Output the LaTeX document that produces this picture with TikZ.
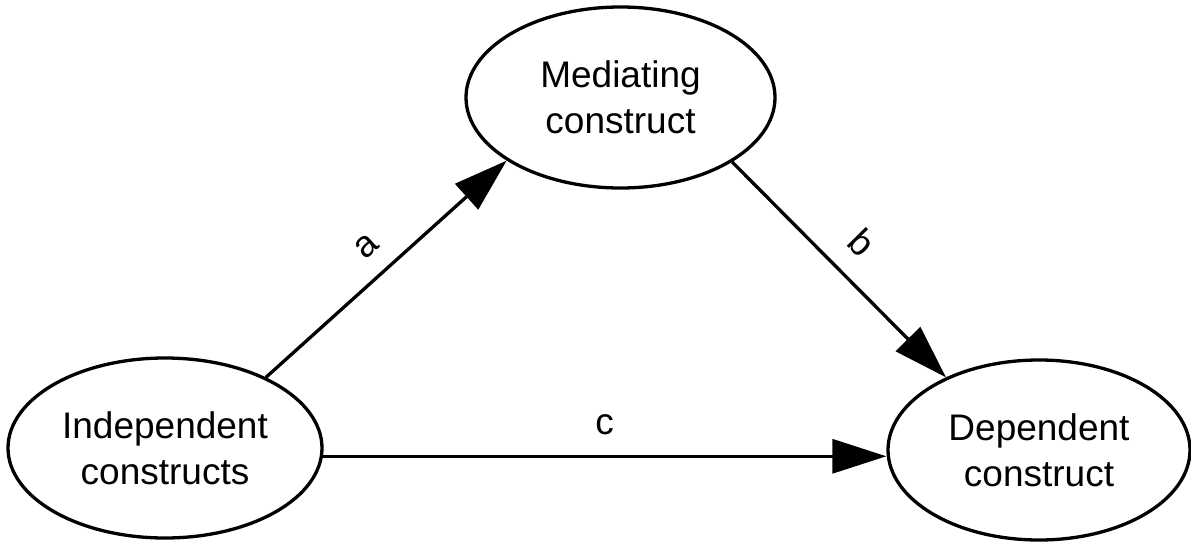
\documentclass[tikz,border=0pt]{standalone}
\usepackage{fontspec}
\setmainfont{Liberation Sans}
\usetikzlibrary{shapes.geometric,arrows.meta}
\tikzset{
  construct/.style={draw, ellipse, line width=3.3pt, inner sep=0pt, align=center,
    font=\fontsize{37pt}{46pt}\selectfont},
  arr/.style={line width=3.3pt, -{Triangle[length=54pt,width=34pt]}},
  lab/.style={font=\fontsize{37pt}{46pt}\selectfont, inner sep=0pt}
}
\begin{document}
\begin{tikzpicture}[x=1pt,y=1pt]
\useasboundingbox (0,0) rectangle (1191,-541);
\node[construct, minimum width=309pt, minimum height=181pt] (med) at (620.5,-97.5) {Mediating\\construct};
\node[construct, minimum width=314pt, minimum height=180pt] (ind) at (165,-448) {Independent\\constructs};
\node[construct, minimum width=302pt, minimum height=180pt] (dep) at (1039,-450) {Dependent\\construct};
\draw[arr] (ind.35.5) -- node[lab, pos=0.5, sloped, above=18pt] (la) {a} (med.209);
\draw[arr] (med.-30.5) -- node[lab, pos=0.49, sloped, above=20pt] (lb) {b} (dep.142.4);
\draw[arr] (ind.-3) -- node[lab, midway, above=20pt] (lc) {c} (ind.-3 -| dep.west);
\end{tikzpicture}
\end{document}
